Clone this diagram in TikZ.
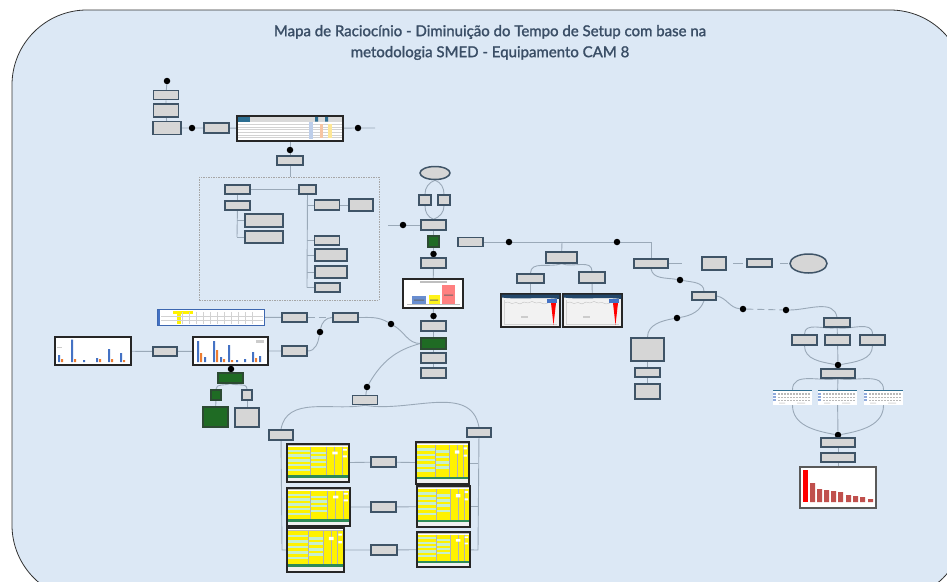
\documentclass[tikz,border=0pt]{standalone}
\usepackage{fontspec}
\setmainfont{Lato}
\newfontfamily\headfont{Lato}[BoldFont=Lato, BoldFeatures={FakeBold=1.6}]
\usetikzlibrary{shapes.geometric}

\definecolor{bgblue}{HTML}{DCE8F5}
\definecolor{boxfill}{HTML}{D6D6D6}
\definecolor{boxedge}{HTML}{3F5467}
\definecolor{boxgreen}{HTML}{1F6B24}
\definecolor{greenedge}{HTML}{2C4A33}
\definecolor{linkc}{HTML}{9AA9B8}
\definecolor{titlec}{HTML}{3A4E66}
\definecolor{barblue}{HTML}{4472C4}
\definecolor{barorange}{HTML}{ED7D31}
\definecolor{barred}{HTML}{C0504D}
\definecolor{lgreen}{HTML}{C6EFCE}
\definecolor{tgreen}{HTML}{2E8B57}
\definecolor{navy}{HTML}{23476A}
\definecolor{teal}{HTML}{2C6E91}

\pgfdeclarelayer{back}
\pgfdeclarelayer{wires}
\pgfsetlayers{back,wires,main}

\tikzset{
  box/.style={rectangle, draw=boxedge, fill=boxfill, line width=1.5pt, inner sep=0pt},
  gbox/.style={box, fill=boxgreen, draw=greenedge},
  oval/.style={ellipse, draw=boxedge, fill=boxfill, line width=1.5pt, inner sep=0pt},
  dot/.style={circle, fill=black, inner sep=0pt, minimum size=6.5pt},
  link/.style={draw=linkc, line width=0.9pt},
  dlink/.style={link, dash pattern=on 7pt off 4pt},
  grp/.style={rectangle, draw=gray!70, dash pattern=on 1.5pt off 1pt, line width=0.6pt, inner sep=0pt},
  shot/.style={rectangle, draw=black!85, fill=white, line width=1.3pt, inner sep=0pt},
}

% box: [style]{name}{x}{y}{width}{height}
\newcommand\bx[6][box]{\node[#1, minimum width=#5pt, minimum height=#6pt] (#2) at (#3,#4) {};}
% dot: {name}{x}{y}
\newcommand\dt[3]{\node[dot] (#1) at (#2,#3) {};}

% yellow setup sheet drawn in a 60x40 frame
\newcommand\ysheet[4]{%
  \begin{scope}[shift={(#1,#2)}, xscale=#3/60, yscale=#4/40]
    \fill[yellow] (1,3) rectangle (59,33);
    \foreach \i in {0,...,4} \fill[lgreen] (1,6+5*\i) rectangle (22,8.5+5*\i);
    \foreach \i in {0,...,3} \fill[lgreen] (23,8+5*\i) rectangle (38,10.5+5*\i);
    \draw[gray!60, line width=0.2pt] (22,3)--(22,33) (38,3)--(38,33) (46,3)--(46,33) (53,3)--(53,33);
    \fill[white] (44,8) rectangle (49,11) (54,5) rectangle (58,7) (54,12) rectangle (58,14);
    \draw[gray!50, line width=0.2pt] (1,1.5)--(59,1.5);
    \fill[tgreen] (1,33) rectangle (59,35.5);
    \fill[gray!12] (1,35.5) rectangle (59,39);
  \end{scope}}

% trend screenshot drawn in a 59x33 frame
\newcommand\trend[2]{%
  \begin{scope}[shift={(#1,#2)}]
    \fill[gray!10] (0.6,0.6) rectangle (58.4,32.4);
    \fill[navy] (0.6,0.6) -- (58.4,0.6) -- (58.4,5) .. controls (40,2.5) and (20,6) .. (0.6,3.5) -- cycle;
    \draw[gray!55, line width=0.3pt] (3,9) -- (7,8) -- (11,9.5) -- (15,8.5) -- (19,10) -- (23,8) -- (27,9) -- (31,7.5) -- (35,9) -- (39,8.5) -- (43,10) -- (47,9);
    \draw[gray!35, line width=0.2pt] (3,6)--(3,30) (3,30)--(56,30);
    \fill[barblue] (46,5) rectangle (56,9);
    \fill[red] (50,9) -- (55,9) -- (52.5,31) -- cycle;
    \fill[gray!40] (20,22) rectangle (27,23.5);
  \end{scope}}

% small process sheet drawn in a 39x15 frame
\newcommand\psheet[2]{%
  \begin{scope}[shift={(#1,#2)}]
    \fill[white] (0,0) rectangle (39,15);
    \fill[teal] (0,0) rectangle (39,1.2);
    \foreach \r in {0,1,2} {
      \fill[barblue!60] (0,3+3.2*\r) rectangle (3,5+3.2*\r);
      \foreach \c in {0,...,10} \fill[gray!55] (5+3*\c,3.3+3.2*\r) rectangle (7+3*\c,4.8+3.2*\r);
    }
    \fill[gray!30] (6,12.5) rectangle (12,13.5) (24,12.5) rectangle (32,13.5);
  \end{scope}}

\begin{document}
\begin{tikzpicture}[x=1pt, y=-1pt]
\useasboundingbox (0,0) rectangle (947,581);

% ---------- title ----------
\node[font=\headfont\bfseries\fontsize{15}{21}\selectfont, text=titlec, align=center] (title) at (490,42.5)
  {Mapa de Racioc\'inio - Diminui\c{c}\~ao do Tempo de Setup com base na\\metodologia SMED - Equipamento CAM 8};

% ---------- top-left chain ----------
\dt{d1}{167}{81}
\bx{b1}{166}{95}{25}{9}
\bx{b2}{166}{110.5}{25}{13}
\bx{b3}{167}{128}{28}{13}
\dt{d2}{192}{128}
\bx{b4}{216.5}{128}{25}{10}
\node[shot, minimum width=106pt, minimum height=25pt] (tabA) at (290,128.5) {};
\dt{d3}{358}{128}
\coordinate (e1) at (375,128);
\dt{d4}{290}{150}
\bx{b5}{290}{160.5}{26}{9}

% ---------- dashed group ----------
\node[grp, minimum width=180pt, minimum height=123pt] (grp) at (289,238.5) {};
\bx{g1}{237.5}{189.5}{25}{9}
\bx{g2}{307.5}{189.5}{17}{9}
\bx{g3}{237.5}{205.5}{25}{9}
\bx{g4}{264}{220.5}{38}{13}
\bx{g5}{264}{237}{38}{12}
\bx{g6}{327}{205}{25}{10}
\bx{g7}{361}{205}{24}{12}
\bx{g8}{327}{240.5}{25}{9}
\bx{g9}{331}{255}{32}{12}
\bx{g10}{331}{272}{32}{12}
\bx{g11}{327.5}{287.5}{25}{9}
\coordinate (c1) at (388,225);
\coordinate (v1) at (237,237);
\coordinate (v2) at (307,287.5);

% ---------- middle column ----------
\node[oval, minimum width=30pt, minimum height=13pt] (m0) at (435,173) {};
\bx{m1}{425}{200}{12}{10}
\bx{m2}{444}{200}{12}{10}
\dt{d5}{403}{225}
\bx{m3}{433.5}{225}{25}{10}
\bx[gbox]{mg1}{433.5}{241.5}{11}{11}
\dt{d6}{433.5}{254}
\bx{m4}{433.5}{263}{25}{10}
\node[shot, minimum width=60pt, minimum height=29pt] (chart1) at (433,293.5) {};
\dt{d7}{433.5}{316}
\bx{m5}{433.5}{326}{25}{10}
\bx[gbox]{mg2}{433.5}{343.5}{25}{11}
\bx{m6}{433.5}{358}{25}{10}
\bx{m7}{433.5}{373}{25}{10}

% ---------- right branch ----------
\bx{r1}{470.5}{242}{25}{9}
\dt{d8}{509}{242}
\dt{d9}{617}{242}
\coordinate (c2) at (651,242);
\coordinate (c3) at (562,242);
\bx{r2}{561.5}{257.5}{31}{11}
\bx{r4}{530.5}{278.5}{27}{9}
\bx{r5}{592}{277.5}{26}{11}
\node[shot, minimum width=59pt, minimum height=33pt] (shot1) at (530.5,310.5) {};
\node[shot, minimum width=59pt, minimum height=33pt] (shot2) at (592.5,310.5) {};
\bx{r3}{651}{263.5}{34}{9}
\coordinate (s1a) at (682,263.5);
\bx{r6}{714}{263.5}{24}{13}
\coordinate (s2a) at (733,263.5);
\coordinate (s2b) at (743,263.5);
\bx{r7}{759.5}{263}{25}{8}
\coordinate (s3a) at (780,263);
\coordinate (s3b) at (788,263);
\node[oval, minimum width=37pt, minimum height=19pt] (r8) at (808.5,263.5) {};
\dt{d10}{680}{280}
\bx{r9}{704}{296}{24}{8}
\dt{d11}{677}{318}
\bx{r10}{647.5}{349.5}{33}{23}
\bx{r11}{647.5}{372.5}{25}{9}
\bx{r12}{647.5}{391.5}{25}{15}
\dt{d12}{743}{309}
\dt{d13}{786}{310}

% ---------- far right column ----------
\bx{q1}{837}{322.5}{26}{9}
\bx{q2}{804.5}{340}{25}{10}
\bx{q3}{837.5}{340}{25}{10}
\bx{q4}{872.5}{340}{25}{10}
\dt{d14}{838}{365}
\bx{q5}{838}{373.5}{34}{9}
\node[inner sep=0pt, minimum width=39pt, minimum height=15pt] (t1) at (792.5,397.5) {};
\node[inner sep=0pt, minimum width=39pt, minimum height=15pt] (t2) at (837.5,397.5) {};
\node[inner sep=0pt, minimum width=39pt, minimum height=15pt] (t3) at (883.5,397.5) {};
\dt{d15}{838}{435}
\bx{q6}{838}{442.5}{34}{9}
\bx{q7}{838}{457.5}{34}{9}
\node[rectangle, draw=black!65, fill=white, line width=1.5pt, inner sep=0pt, minimum width=76pt, minimum height=41pt] (chart2) at (838,487.5) {};

% ---------- left area ----------
\node[rectangle, draw=barblue!90!black, fill=white, line width=1pt, inner sep=0pt, minimum width=107pt, minimum height=16pt] (sc1) at (210.5,317) {};
\bx{p1}{294.5}{317.5}{25}{9}
\bx{p2}{345.5}{317.5}{25}{9}
\bx{p3}{294.5}{351}{25}{10}
\dt{d16}{320}{332}
\dt{d17}{391}{324}
\node[shot, minimum width=76pt, minimum height=28pt] (chartL) at (93,351) {};
\bx{p4}{165}{351.5}{24}{9}
\node[shot, minimum width=75pt, minimum height=28pt] (chartM) at (230.5,351) {};
\dt{d18}{231}{369}
\bx[gbox]{pg1}{230.5}{378}{25}{10}
\bx[gbox]{pg2}{216}{395}{10}{10}
\bx{pg3}{247}{395}{10}{10}
\bx[gbox]{pg4}{215.5}{417}{25}{20}
\bx{pg5}{247}{417.5}{24}{19}

% ---------- bottom block ----------
\dt{d19}{367}{387}
\bx{s0}{365}{400}{25}{9}
\bx{sL}{281}{435}{24}{10}
\bx{sR}{479}{432.5}{24}{9}
\node[shot, minimum width=62pt, minimum height=38pt] (yL1) at (318,463) {};
\node[shot, minimum width=63pt, minimum height=38pt] (yL2) at (318.5,507) {};
\node[shot, minimum width=57pt, minimum height=44pt] (yL3) at (315.5,550) {};
\node[shot, minimum width=53pt, minimum height=42pt] (yR1) at (442.5,463) {};
\node[shot, minimum width=53pt, minimum height=41pt] (yR2) at (443.5,506.5) {};
\node[shot, minimum width=53pt, minimum height=35pt] (yR3) at (443.5,549.5) {};
\bx{s1}{383.5}{462}{25}{10}
\bx{s2}{383.5}{507}{25}{10}
\bx{s3}{384}{550}{26}{10}
\coordinate (lv) at (282,550);
\coordinate (rv) at (478,550);

% ---------- connectors ----------
\begin{pgfonlayer}{wires}
  \draw[link] (d1) -- (b1) -- (b2) -- (b3);
  \draw[link] (b3) -- (d2) -- (b4) -- (tabA) -- (d3) -- (e1);
  \draw[link] (tabA) -- (d4) -- (b5) -- (grp.north -| b5);
  \draw[link] (g1) -- (g2);
  \draw[link] (g1) -- (g3) -- (v1);
  \draw[link] (237,220.5) -- (g4.west);
  \draw[link] (v1) -- (g5.west);
  \draw[link] (g2) -- (v2);
  \draw[link] (307,205) -- (g6.west);
  \draw[link] (g6) -- (g7);
  \draw[link] (307,240.5) -- (g8.west);
  \draw[link] (307,255) -- (g9.west);
  \draw[link] (307,272) -- (g10.west);
  \draw[link] (v2) -- (g11.west);
  \draw[link] (c1) -- (d5) -- (m3);
  \draw[link] (m0.south) to[out=200, in=90] (m1.north);
  \draw[link] (m0.south) to[out=-20, in=90] (m2.north);
  \draw[link] (m1.south) to[out=-90, in=160] (m3.north);
  \draw[link] (m2.south) to[out=-90, in=20] (m3.north);
  \draw[link] (m3) -- (mg1) -- (d6) -- (m4) -- (chart1) -- (d7) -- (m5) -- (mg2) -- (m6) -- (m7);
  \draw[link] (r1) -- (d8) -- (d9) -- (c2) -- (r3);
  \draw[link] (c3) -- (r2);
  \draw[link] (r2.south) to[out=200, in=90] (r4.north);
  \draw[link] (r2.south) to[out=-20, in=90] (r5.north);
  \draw[link] (r4) -- (shot1);
  \draw[link] (r5) -- (shot2);
  \draw[link] (r3) -- (s1a);
  \draw[link] (s2a) -- (s2b);
  \draw[link] (s3a) -- (s3b);
  \draw[link] (r3.south) to[out=-80, in=170] (d10) to[out=-10, in=90] (r9.north);
  \draw[link] (r9.south) to[out=-110, in=10] (d11) to[out=190, in=90] (r10.north);
  \draw[link] (r10) -- (r11) -- (r12);
  \draw[link] (r9.east) to[out=-10, in=175] (d12);
  \draw[dlink] (d12) -- (d13);
  \draw[link] (d13) to[out=0, in=100] (q1.north);
  \draw[link] (q1.south) to[out=190, in=90] (q2.north);
  \draw[link] (q1) -- (q3);
  \draw[link] (q1.south) to[out=-10, in=90] (q4.north);
  \draw[link] (q2.south) to[out=-90, in=170] (d14);
  \draw[link] (q3) -- (d14);
  \draw[link] (q4.south) to[out=-90, in=10] (d14);
  \draw[link] (d14) -- (q5);
  \draw[link] (q5.south) to[out=190, in=90] (t1.north);
  \draw[link] (q5) -- (t2);
  \draw[link] (q5.south) to[out=-10, in=90] (t3.north);
  \draw[link] (t1.south) to[out=-90, in=170] (d15);
  \draw[link] (t2) -- (d15);
  \draw[link] (t3.south) to[out=-90, in=10] (d15);
  \draw[link] (d15) -- (q6) -- (q7) -- (chart2);
  \draw[link] (sc1) -- (p1);
  \draw[dlink] (p1) -- (p2);
  \draw[link] (p3.east) to[out=0, in=-100] (d16) to[out=80, in=180] (p2.west);
  \draw[link] (p2.east) to[out=0, in=150] (d17) to[out=-30, in=180] (mg2.west);
  \draw[link] (chartL) -- (p4) -- (chartM) -- (p3);
  \draw[link] (chartM) -- (d18) -- (pg1);
  \draw[link] (pg1.south) to[out=200, in=90] (pg2.north);
  \draw[link] (pg1.south) to[out=-20, in=90] (pg3.north);
  \draw[link] (pg2) -- (pg4);
  \draw[link] (pg3) -- (pg5);
  \draw[link] (mg2.west) to[out=195, in=60] (d19) -- (s0);
  \draw[link] (s0.south) to[out=190, in=80] (sL.north);
  \draw[link] (s0.south) to[out=-10, in=100] (sR.north);
  \draw[link] (sL) -- (lv) -- (yL3);
  \draw[link] (sR) -- (rv) -- (yR3);
  \draw[link] (yR1) -- (yR1 -| rv);
  \draw[link] (yR2) -- (yR2 -| rv);
  \draw[link] (yL1) -- (s1) -- (yR1);
  \draw[link] (yL2) -- (s2) -- (yR2);
  \draw[link] (yL3) -- (s3) -- (yR3);
\end{pgfonlayer}

% ---------- page background ----------
\begin{pgfonlayer}{back}
  \fill[white] (0,0) rectangle (947,581);
  \begin{scope}
    \clip (0,0) rectangle (947,581);
    \draw[fill=bgblue, draw=black!80, line width=0.8pt, rounded corners=75pt] (12,10) rectangle (965,600);
  \end{scope}
\end{pgfonlayer}

% ---------- contents of the embedded sheets and charts ----------
% summary table at top
\begin{scope}
  \fill[gray!30] (237.8,116.8) rectangle (342.2,121.5);
  \fill[teal] (237.8,116.8) rectangle (250,121.5);
  \fill[teal] (315,116.8) rectangle (318,121.5) (325,116.8) rectangle (328,121.5);
  \foreach \k in {0,...,5} \draw[gray!35, line width=0.2pt] (238,124+2.7*\k) -- (342,124+2.7*\k);
  \fill[barblue!35] (309,122) rectangle (313,139);
  \fill[barorange!45] (320,124) rectangle (323,138);
  \fill[yellow!60!orange!40] (328,124) rectangle (332,138);
\end{scope}
% blue-framed sheet
\begin{scope}
  \fill[barblue] (157.5,309.5) rectangle (160,324.5);
  \fill[yellow] (173,310.5) rectangle (193,313.5);
  \fill[yellow] (177,313.5) rectangle (181,324);
  \foreach \k in {0,...,10} \draw[gray!35, line width=0.2pt] (182+7*\k,312) -- (182+7*\k,324);
  \draw[gray!35, line width=0.2pt] (161,316) -- (263,316) (161,320) -- (263,320);
\end{scope}
% bar chart, far left
\begin{scope}
  \fill[barblue] (58,355) rectangle (60,362) (71,339.5) rectangle (73,362) (83,360) rectangle (85,362) (96,358) rectangle (98,362) (108,349) rectangle (110,362) (120,353) rectangle (122,362);
  \fill[barorange] (61,359) rectangle (63,362) (74,359) rectangle (76,362) (99,359) rectangle (101,362) (111,359) rectangle (113,362) (123,360) rectangle (125,362);
  \fill[gray!40] (57,347) rectangle (62,348);
\end{scope}
% bar chart, middle left
\begin{scope}
  \fill[barblue] (197,341) rectangle (199,362) (204,357) rectangle (206,362) (213,341) rectangle (215,362) (220,357) rectangle (222,362) (228,345) rectangle (230,362) (236,360) rectangle (238,362) (244,359) rectangle (246,362) (252,352) rectangle (254,362) (259,356) rectangle (261,362);
  \fill[barorange] (200,353) rectangle (202,362) (216,350) rectangle (218,362) (223,359) rectangle (225,362) (231,360) rectangle (233,362) (255,358) rectangle (257,362);
  \fill[gray!40] (256,340) rectangle (264,343);
\end{scope}
% three-bar summary chart
\begin{scope}
  \fill[gray!50] (420,281) rectangle (447,282.5);
  \fill[barblue!80] (412,296) rectangle (426,304);
  \fill[yellow!90!white] (429,295) rectangle (440,304);
  \fill[red!50] (442,285) rectangle (455,304);
  \draw[gray!50, line width=0.3pt] (407,304.5) -- (460,304.5);
  \fill[black!60] (414,299.5) rectangle (424,300.5) (430,299.5) rectangle (438,300.5) (444,294.5) rectangle (453,295.5);
\end{scope}
% trend screenshots
\trend{501}{294}
\trend{563}{294}
% process sheets
\psheet{773}{390}
\psheet{818}{390}
\psheet{864}{390}
% ranked bar chart
\begin{scope}
  \fill[red] (803,470) rectangle (808,502);
  \fill[barred] (810,483) rectangle (815,502) (817,489) rectangle (822,502) (824,490) rectangle (829,502) (831,491) rectangle (836,502) (838,492) rectangle (843,502) (846,495) rectangle (851,502) (853,496) rectangle (858,502) (860,497) rectangle (865,502) (868,499) rectangle (873,502);
\end{scope}
% setup sheets
\ysheet{287}{444}{62}{38}
\ysheet{287}{488}{63}{38}
\ysheet{287}{528}{57}{44}
\ysheet{416}{442}{53}{42}
\ysheet{417}{486}{53}{41}
\ysheet{417}{532}{53}{35}
\end{tikzpicture}
\end{document}
